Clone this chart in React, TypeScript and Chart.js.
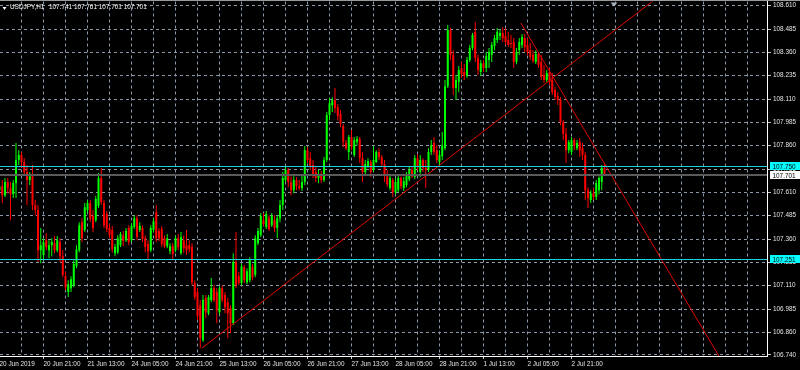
import React, { useEffect, useRef } from 'react';
import { Chart, registerables } from 'chart.js';

Chart.register(...registerables);

const symbolTitle = 'USDJPY,H1';
const headerQuote = ['107.741', '107.761', '107.701', '107.701'];

const timeLabels = ['20 Jun 2019', '20 Jun 21:00', '21 Jun 13:00', '24 Jun 05:00', '24 Jun 21:00', '25 Jun 13:00', '26 Jun 05:00', '26 Jun 21:00', '27 Jun 13:00', '28 Jun 05:00', '28 Jun 21:00', '1 Jul 13:00', '2 Jul 05:00', '2 Jul 21:00'];

const priceTicks = [108.61, 108.485, 108.36, 108.235, 108.11, 107.985, 107.86, 107.735, 107.61, 107.485, 107.36, 107.235, 107.11, 106.985, 106.86, 106.74];

const opens = [
  107.622, 107.643, 107.595, 107.665, 107.633, 107.600, 107.660, 107.783, 107.810, 107.773,
  107.719, 107.676, 107.697, 107.542, 107.515, 107.300, 107.274, 107.354, 107.300, 107.327,
  107.338, 107.300, 107.344, 107.268, 107.161, 107.076, 107.097, 107.113, 107.215, 107.300,
  107.450, 107.408, 107.515, 107.553, 107.483, 107.461, 107.537, 107.687, 107.553, 107.494,
  107.419, 107.408, 107.284, 107.290, 107.327, 107.381, 107.354, 107.419, 107.354, 107.424,
  107.472, 107.408, 107.419, 107.365, 107.333, 107.300, 107.408, 107.504, 107.403, 107.414,
  107.365, 107.322, 107.295, 107.322, 107.300, 107.365, 107.284, 107.354, 107.327, 107.327,
  107.317, 107.124, 107.076, 107.006, 106.818, 107.044, 106.963, 107.033, 107.097, 107.076,
  106.968, 107.097, 107.060, 107.022, 106.990, 106.909, 107.237, 107.161, 107.124, 107.210,
  107.129, 107.140, 107.210, 107.167, 107.338, 107.381, 107.461, 107.424, 107.472, 107.434,
  107.461, 107.419, 107.472, 107.542, 107.676, 107.730, 107.665, 107.622, 107.676, 107.643,
  107.633, 107.665, 107.836, 107.793, 107.757, 107.719, 107.687, 107.708, 107.676, 107.783,
  108.024, 108.077, 108.104, 108.067, 108.030, 107.965, 107.874, 107.826, 107.907, 107.810,
  107.880, 107.896, 107.793, 107.719, 107.751, 107.773, 107.730, 107.773, 107.826, 107.799,
  107.762, 107.697, 107.633, 107.676, 107.611, 107.622, 107.687, 107.633, 107.649, 107.681,
  107.730, 107.692, 107.793, 107.719, 107.783, 107.740, 107.730, 107.826, 107.874, 107.836,
  107.773, 107.804, 107.847, 108.179, 108.480, 108.346, 108.169, 108.201, 108.276, 108.255,
  108.233, 108.319, 108.383, 108.470, 108.329, 108.255, 108.302, 108.276, 108.319, 108.346,
  108.394, 108.426, 108.448, 108.464, 108.448, 108.426, 108.410, 108.416, 108.308, 108.372,
  108.399, 108.437, 108.399, 108.372, 108.346, 108.309, 108.351, 108.309, 108.239, 108.212,
  108.255, 108.212, 108.158, 108.127, 108.105, 107.986, 107.923, 107.836, 107.826, 107.891,
  107.847, 107.880, 107.847, 107.810, 107.622, 107.569, 107.606, 107.585, 107.622, 107.665,
  107.741,
];

const highs = [
  107.660, 107.676, 107.687, 107.687, 107.665, 107.676, 107.874, 107.836, 107.826, 107.793,
  107.757, 107.719, 107.757, 107.569, 107.542, 107.419, 107.365, 107.392, 107.354, 107.365,
  107.376, 107.376, 107.365, 107.300, 107.183, 107.140, 107.161, 107.247, 107.327, 107.450,
  107.472, 107.553, 107.569, 107.569, 107.515, 107.591, 107.714, 107.740, 107.569, 107.510,
  107.440, 107.430, 107.333, 107.381, 107.398, 107.403, 107.419, 107.434, 107.445, 107.488,
  107.488, 107.450, 107.434, 107.381, 107.354, 107.434, 107.472, 107.542, 107.419, 107.430,
  107.381, 107.387, 107.338, 107.338, 107.381, 107.387, 107.398, 107.381, 107.408, 107.354,
  107.338, 107.140, 107.097, 107.033, 107.060, 107.060, 107.060, 107.151, 107.113, 107.097,
  107.107, 107.113, 107.076, 107.044, 107.006, 107.284, 107.398, 107.183, 107.231, 107.221,
  107.204, 107.263, 107.226, 107.381, 107.419, 107.499, 107.499, 107.510, 107.488, 107.499,
  107.488, 107.488, 107.569, 107.719, 107.751, 107.740, 107.697, 107.697, 107.692, 107.676,
  107.703, 107.858, 107.853, 107.826, 107.783, 107.746, 107.730, 107.724, 107.799, 108.040,
  108.115, 108.120, 108.169, 108.083, 108.051, 107.976, 107.890, 107.917, 107.944, 107.907,
  107.912, 107.907, 107.826, 107.783, 107.793, 107.783, 107.858, 107.836, 107.847, 107.810,
  107.783, 107.730, 107.708, 107.687, 107.687, 107.708, 107.697, 107.692, 107.719, 107.746,
  107.751, 107.810, 107.815, 107.810, 107.793, 107.783, 107.847, 107.890, 107.907, 107.863,
  107.836, 107.934, 108.212, 108.507, 108.491, 108.372, 108.239, 108.287, 108.308, 108.298,
  108.335, 108.399, 108.464, 108.523, 108.346, 108.319, 108.319, 108.362, 108.383, 108.416,
  108.453, 108.491, 108.480, 108.496, 108.491, 108.470, 108.453, 108.437, 108.383, 108.437,
  108.459, 108.459, 108.437, 108.410, 108.372, 108.372, 108.362, 108.346, 108.293, 108.266,
  108.276, 108.250, 108.174, 108.147, 108.121, 107.997, 107.955, 107.891, 107.907, 107.901,
  107.891, 107.901, 107.874, 107.826, 107.638, 107.622, 107.633, 107.676, 107.697, 107.757,
  107.761,
];

const lows = [
  107.585, 107.553, 107.585, 107.606, 107.461, 107.580, 107.580, 107.757, 107.740, 107.703,
  107.542, 107.649, 107.515, 107.488, 107.237, 107.231, 107.247, 107.300, 107.257, 107.268,
  107.284, 107.290, 107.237, 107.156, 107.086, 107.049, 107.076, 107.102, 107.204, 107.290,
  107.344, 107.398, 107.504, 107.450, 107.398, 107.450, 107.526, 107.542, 107.419, 107.398,
  107.365, 107.290, 107.268, 107.279, 107.317, 107.322, 107.344, 107.327, 107.344, 107.414,
  107.354, 107.398, 107.344, 107.290, 107.247, 107.290, 107.398, 107.344, 107.349, 107.317,
  107.311, 107.311, 107.279, 107.247, 107.290, 107.300, 107.274, 107.284, 107.274, 107.290,
  107.113, 107.033, 106.925, 106.775, 106.808, 106.936, 106.952, 107.022, 107.022, 106.909,
  106.958, 107.022, 106.963, 106.829, 106.856, 106.898, 107.097, 107.113, 107.113, 107.124,
  107.118, 107.129, 107.140, 107.156, 107.327, 107.371, 107.430, 107.414, 107.403, 107.424,
  107.398, 107.365, 107.450, 107.515, 107.665, 107.638, 107.595, 107.606, 107.622, 107.622,
  107.617, 107.649, 107.767, 107.730, 107.687, 107.665, 107.660, 107.660, 107.665, 107.773,
  107.997, 108.040, 108.035, 107.997, 107.959, 107.853, 107.836, 107.783, 107.836, 107.799,
  107.863, 107.767, 107.665, 107.703, 107.740, 107.692, 107.719, 107.767, 107.783, 107.746,
  107.665, 107.638, 107.622, 107.585, 107.600, 107.611, 107.627, 107.617, 107.638, 107.670,
  107.687, 107.681, 107.730, 107.692, 107.719, 107.633, 107.719, 107.810, 107.810, 107.767,
  107.757, 107.783, 107.836, 108.169, 108.319, 108.131, 108.105, 108.147, 108.223, 108.212,
  108.223, 108.308, 108.372, 108.308, 108.239, 108.233, 108.255, 108.255, 108.276, 108.308,
  108.372, 108.410, 108.426, 108.416, 108.399, 108.389, 108.383, 108.276, 108.297, 108.346,
  108.383, 108.362, 108.346, 108.319, 108.303, 108.298, 108.276, 108.212, 108.196, 108.201,
  108.185, 108.131, 108.105, 108.078, 107.970, 107.891, 107.767, 107.820, 107.810, 107.836,
  107.836, 107.799, 107.783, 107.569, 107.526, 107.553, 107.569, 107.569, 107.600, 107.622,
  107.701,
];

const closes = [
  107.643, 107.595, 107.665, 107.633, 107.600, 107.660, 107.783, 107.810, 107.773, 107.719,
  107.676, 107.697, 107.542, 107.515, 107.300, 107.327, 107.344, 107.317, 107.327, 107.344,
  107.300, 107.354, 107.268, 107.167, 107.102, 107.118, 107.145, 107.226, 107.306, 107.434,
  107.365, 107.531, 107.553, 107.467, 107.419, 107.574, 107.687, 107.558, 107.434, 107.414,
  107.381, 107.306, 107.317, 107.365, 107.387, 107.349, 107.403, 107.344, 107.430, 107.472,
  107.371, 107.430, 107.360, 107.317, 107.295, 107.419, 107.456, 107.365, 107.365, 107.333,
  107.322, 107.365, 107.322, 107.279, 107.365, 107.317, 107.371, 107.311, 107.300, 107.306,
  107.129, 107.049, 106.947, 106.829, 107.033, 106.968, 107.049, 107.097, 107.033, 106.979,
  107.097, 107.033, 106.995, 106.963, 106.909, 107.237, 107.113, 107.124, 107.215, 107.140,
  107.188, 107.247, 107.156, 107.365, 107.403, 107.483, 107.440, 107.494, 107.414, 107.483,
  107.419, 107.472, 107.542, 107.687, 107.730, 107.665, 107.622, 107.676, 107.643, 107.633,
  107.665, 107.836, 107.783, 107.746, 107.708, 107.687, 107.703, 107.676, 107.783, 108.024,
  108.088, 108.104, 108.062, 108.019, 107.976, 107.880, 107.847, 107.907, 107.853, 107.890,
  107.896, 107.793, 107.719, 107.762, 107.778, 107.719, 107.783, 107.826, 107.799, 107.762,
  107.697, 107.654, 107.687, 107.611, 107.665, 107.687, 107.643, 107.670, 107.703, 107.730,
  107.697, 107.793, 107.751, 107.783, 107.740, 107.730, 107.826, 107.863, 107.826, 107.783,
  107.810, 107.863, 108.179, 108.480, 108.346, 108.169, 108.212, 108.266, 108.244, 108.233,
  108.319, 108.383, 108.453, 108.329, 108.266, 108.302, 108.276, 108.340, 108.362, 108.399,
  108.437, 108.470, 108.464, 108.437, 108.416, 108.399, 108.405, 108.308, 108.362, 108.416,
  108.443, 108.389, 108.362, 108.335, 108.314, 108.351, 108.293, 108.228, 108.212, 108.250,
  108.201, 108.147, 108.121, 108.105, 107.986, 107.923, 107.836, 107.880, 107.891, 107.858,
  107.874, 107.836, 107.810, 107.622, 107.580, 107.606, 107.585, 107.660, 107.687, 107.740,
  107.701,
];

// trend lines: [bar index, price]
const upTrend = [{ x: 73.6, y: 106.776 }, { x: 238, y: 108.64 }];
const downTrend = [{ x: 189.6, y: 108.517 }, { x: 264, y: 106.674 }];

const resistanceLevel = 107.75;
const supportLevel = 107.251;
const bidPrice = 107.701;

const BULL = '#00ff00';
const BEAR = '#ff0000';
const TREND = '#e00000';
const GRID = '#8a97a8';
const LEVEL = '#19d3dc';
const FONT = '"Liberation Sans", Arial, sans-serif';
const FONT_SIZE = 6.4;

const overlay = {
  id: 'mt4overlay',
  afterDatasetsDraw(chart: any) {
    const { ctx, chartArea: a, scales } = chart;
    const y = scales.y;
    ctx.save();
    ctx.beginPath();
    ctx.rect(a.left, a.top, a.right - a.left, a.bottom - a.top);
    ctx.clip();
    const hline = (v: number, color: string, w: number) => {
      const py = Math.round(y.getPixelForValue(v)) + (w % 2 ? 0.5 : 0);
      ctx.strokeStyle = color;
      ctx.lineWidth = w;
      ctx.beginPath();
      ctx.moveTo(a.left, py);
      ctx.lineTo(a.right, py);
      ctx.stroke();
    };
    hline(bidPrice, '#5a5a5a', 2);
    hline(resistanceLevel, LEVEL, 1);
    hline(supportLevel, LEVEL, 1);
    ctx.restore();
  },
  afterDraw(chart: any) {
    const { ctx, chartArea: a, scales, width } = chart;
    const y = scales.y;
    ctx.save();
    // top frame line
    ctx.strokeStyle = '#9a9a9a';
    ctx.lineWidth = 1;
    ctx.beginPath();
    ctx.moveTo(0, 0.5);
    ctx.lineTo(width, 0.5);
    ctx.stroke();
    // price boxes on the right axis
    ctx.font = `${FONT_SIZE}px ${FONT}`;
    ctx.textBaseline = 'middle';
    ctx.textAlign = 'left';
    const box = (v: number, fill: string) => {
      const py = y.getPixelForValue(v);
      ctx.fillStyle = fill;
      ctx.fillRect(a.right + 3, Math.round(py) - 4, width - a.right - 3, 8);
      ctx.fillStyle = '#000';
      ctx.fillText(v.toFixed(3), a.right + 5.5, py + 0.5);
    };
    box(resistanceLevel, '#00ffff');
    box(supportLevel, '#00ffff');
    box(bidPrice, '#ffffff');
    // header
    ctx.fillStyle = '#ffffff';
    ctx.beginPath();
    ctx.moveTo(2.5, 7);
    ctx.lineTo(6.5, 7);
    ctx.lineTo(4.5, 10);
    ctx.closePath();
    ctx.fill();
    ctx.fillText(symbolTitle, 10, 7.5);
    ctx.fillText(headerQuote.join(' '), 49, 7.5);
    // chart shift marker
    ctx.fillStyle = '#a8b0ba';
    ctx.beginPath();
    ctx.moveTo(610.5, 2.5);
    ctx.lineTo(617.5, 2.5);
    ctx.lineTo(614, 6.5);
    ctx.closePath();
    ctx.fill();
    ctx.restore();
  },
};

export default function App() {
  const ref = useRef<HTMLCanvasElement>(null);
  useEffect(() => {
    const canvas = ref.current as HTMLCanvasElement;
    const idx = closes.map((_, i) => i);
    const colors = idx.map((i) => (closes[i] >= opens[i] ? BULL : BEAR));
    const chart = new Chart(canvas, {
      type: 'bar',
      data: {
        datasets: [
          { type: 'line', data: upTrend, borderColor: TREND, borderWidth: 1, pointRadius: 0, tension: 0, fill: false, order: 0 } as any,
          { type: 'line', data: downTrend, borderColor: TREND, borderWidth: 1, pointRadius: 0, tension: 0, fill: false, order: 0 } as any,
          {
            type: 'bar',
            data: idx.map((i) => ({ x: i, y: [opens[i], closes[i]] })),
            backgroundColor: colors,
            borderWidth: 0,
            grouped: false,
            barPercentage: 1,
            categoryPercentage: 1,
            maxBarThickness: 2,
            minBarLength: 1,
            inflateAmount: 0,
            order: 1,
          } as any,
          {
            type: 'bar',
            data: idx.map((i) => ({ x: i, y: [lows[i], highs[i]] })),
            backgroundColor: colors,
            borderWidth: 0,
            grouped: false,
            barPercentage: 1,
            categoryPercentage: 1,
            maxBarThickness: 1,
            minBarLength: 1,
            inflateAmount: 0,
            order: 2,
          } as any,
        ],
      },
      options: {
        animation: false,
        responsive: false,
        devicePixelRatio: 1,
        events: [],
        layout: { padding: { top: 1.5, left: 0, right: 0, bottom: 0 } },
        plugins: { legend: { display: false }, tooltip: { enabled: false }, title: { display: false } },
        font: { family: FONT, size: FONT_SIZE },
        scales: {
          x: {
            type: 'linear',
            position: 'bottom',
            min: 0.5 / 2.75,
            max: 767.5 / 2.75,
            offset: false,
            afterBuildTicks: (s: any) => {
              const t = [];
              for (let v = 0; v <= 272; v += 8) t.push({ value: v });
              s.ticks = t;
            },
            afterFit: (s: any) => {
              s.height = 14;
              s.paddingLeft = 0;
              s.paddingRight = 0;
            },
            ticks: {
              autoSkip: false,
              maxRotation: 0,
              minRotation: 0,
              align: 'start',
              padding: 1,
              color: '#e4e4e4',
              font: { family: FONT, size: FONT_SIZE },
              callback: (v: any) => (Number(v) % 16 === 0 ? timeLabels[Number(v) / 16] ?? '' : ''),
            },
            grid: {
              offset: false,
              color: GRID,
              lineWidth: 1,
              tickLength: 3,
              tickColor: (c: any) => (c.tick && c.tick.value % 16 === 0 && timeLabels[c.tick.value / 16] ? '#d0d0d0' : 'rgba(0,0,0,0)'),
              tickBorderDash: [10, 0],
            },
            border: { display: true, color: '#ffffff', width: 1, dash: [3, 3] },
          },
          y: {
            type: 'linear',
            position: 'right',
            min: 106.7336,
            max: 108.6325,
            afterBuildTicks: (s: any) => {
              s.ticks = priceTicks.map((v) => ({ value: v }));
            },
            afterFit: (s: any) => {
              s.width = 33;
              s.paddingTop = 0;
              s.paddingBottom = 0;
            },
            ticks: {
              padding: 2,
              color: '#e4e4e4',
              font: { family: FONT, size: FONT_SIZE },
              callback: (v: any) => Number(v).toFixed(3),
            },
            grid: {
              color: GRID,
              lineWidth: 1,
              tickLength: 4,
              tickColor: '#c8c8c8',
              tickBorderDash: [10, 0],
            },
            border: { display: true, color: '#ffffff', width: 1, dash: [3, 3] },
          },
        },
      } as any,
      plugins: [overlay as any],
    });
    return () => chart.destroy();
  }, []);
  return (
    <div style={{ position: 'fixed', left: 0, top: 0, width: 800, height: 370, background: '#000' }}>
      <canvas ref={ref} width={800} height={370} style={{ display: 'block' }} />
    </div>
  );
}
